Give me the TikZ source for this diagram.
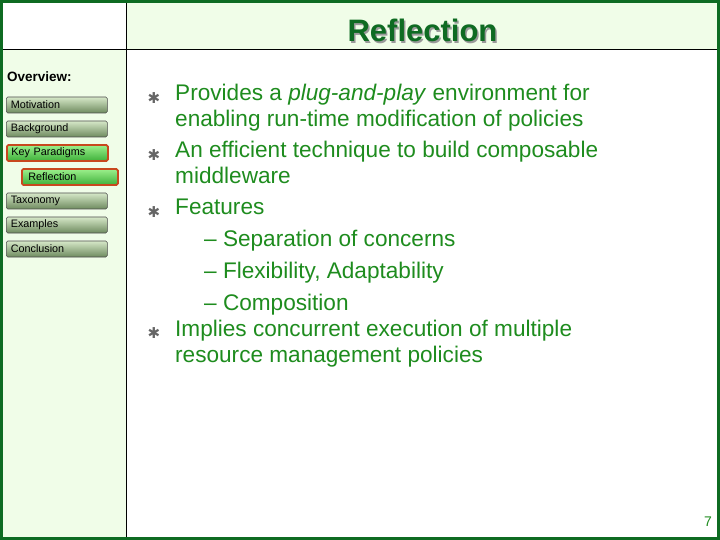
\documentclass[tikz,border=0pt]{standalone}
\usepackage{fontspec}
\setmainfont{Liberation Sans}
\newfontfamily\dvs{DejaVu Sans}
\definecolor{dkgreen}{HTML}{0E6B22}
\definecolor{txtgreen}{HTML}{1E8C1E}
\definecolor{pale}{HTML}{F0FDE8}
\definecolor{btntop}{HTML}{D6E8C8}
\definecolor{btnbot}{HTML}{6E8A5E}
\definecolor{hitop}{HTML}{9CF08C}
\definecolor{hibot}{HTML}{3EB03A}
\definecolor{redb}{HTML}{C8481E}
\begin{document}
\begin{tikzpicture}[x=1pt,y=-1pt,
  btn/.style={draw=black!70,line width=0.6pt,rounded corners=1.5pt,top color=btntop,bottom color=btnbot,minimum height=16pt,inner sep=0pt,font=\fontsize{10.8}{11}\selectfont,text=black},
  hibtn/.style={btn,draw=redb,line width=1.8pt,top color=hitop,bottom color=hibot},
  txt/.style={anchor=mid west,inner sep=0pt,font=\fontsize{22.6}{24}\selectfont,text=txtgreen},
  bul/.style={inner sep=0pt,font=\dvs\fontsize{15}{15}\selectfont,text=black!60}]
\useasboundingbox (0,0) rectangle (720,540);
\fill[white] (0,0) rectangle (720,540);
\fill[pale] (126,0) rectangle (720,50);
\fill[pale] (0,50) rectangle (126,540);
\draw[black,line width=1pt] (126,0) -- (126,540);
\draw[black,line width=1pt] (0,50) -- (720,50);
\draw[dkgreen,line width=3pt] (1.5,1.5) rectangle (718.5,538.5);
\node[font=\bfseries\fontsize{31}{33}\selectfont,text=black!40] (tsh) at (424,32) {Reflection};
\node[font=\bfseries\fontsize{31}{33}\selectfont,text=dkgreen] (title) at (422.5,30.5) {Reflection};
\node[anchor=mid west,inner sep=0pt,font=\bfseries\fontsize{13.5}{14}\selectfont] (ov) at (7,79) {Overview:};
\node[btn,minimum width=101pt,anchor=west,text width=92pt,align=left] (b1) at (6,105) {Motivation};
\node[btn,minimum width=101pt,anchor=west,text width=92pt,align=left] (b2) at (6,129) {Background};
\node[hibtn,minimum width=101pt,anchor=west,text width=92pt,align=left] (b3) at (6,153) {Key Paradigms};
\node[hibtn,minimum width=96pt,anchor=west,text width=87pt,align=left] (b4) at (21,177) {\hspace{2pt}Reflection};
\node[btn,minimum width=101pt,anchor=west,text width=92pt,align=left] (b5) at (6,201) {Taxonomy};
\node[btn,minimum width=101pt,anchor=west,text width=92pt,align=left] (b6) at (6,225) {Examples};
\node[btn,minimum width=101pt,anchor=west,text width=92pt,align=left] (b7) at (6,249) {Conclusion};
\node[bul] (p1) at (154,98) {✱};
\node[bul] (p2) at (154,155) {✱};
\node[bul] (p3) at (154,212) {✱};
\node[bul] (p4) at (154,333) {✱};
\node[txt] (l1) at (175,98) {Provides a \textit{plug-and-play} environment for};
\node[txt] (l2) at (175,124) {enabling run-time modification of policies};
\node[txt] (l3) at (175,155) {An efficient technique to build composable};
\node[txt] (l4) at (175,181) {middleware};
\node[txt] (l5) at (175,212) {Features};
\node[txt] (l6) at (204,244) {– Separation of concerns};
\node[txt] (l7) at (204,276) {– Flexibility, Adaptability};
\node[txt] (l8) at (204,308) {– Composition};
\node[txt] (l9) at (175,334) {Implies concurrent execution of multiple};
\node[txt] (l10) at (175,360) {resource management policies};
\node[font=\fontsize{14}{15}\selectfont,text=txtgreen] (pg) at (708,522) {7};
\end{tikzpicture}
\end{document}
